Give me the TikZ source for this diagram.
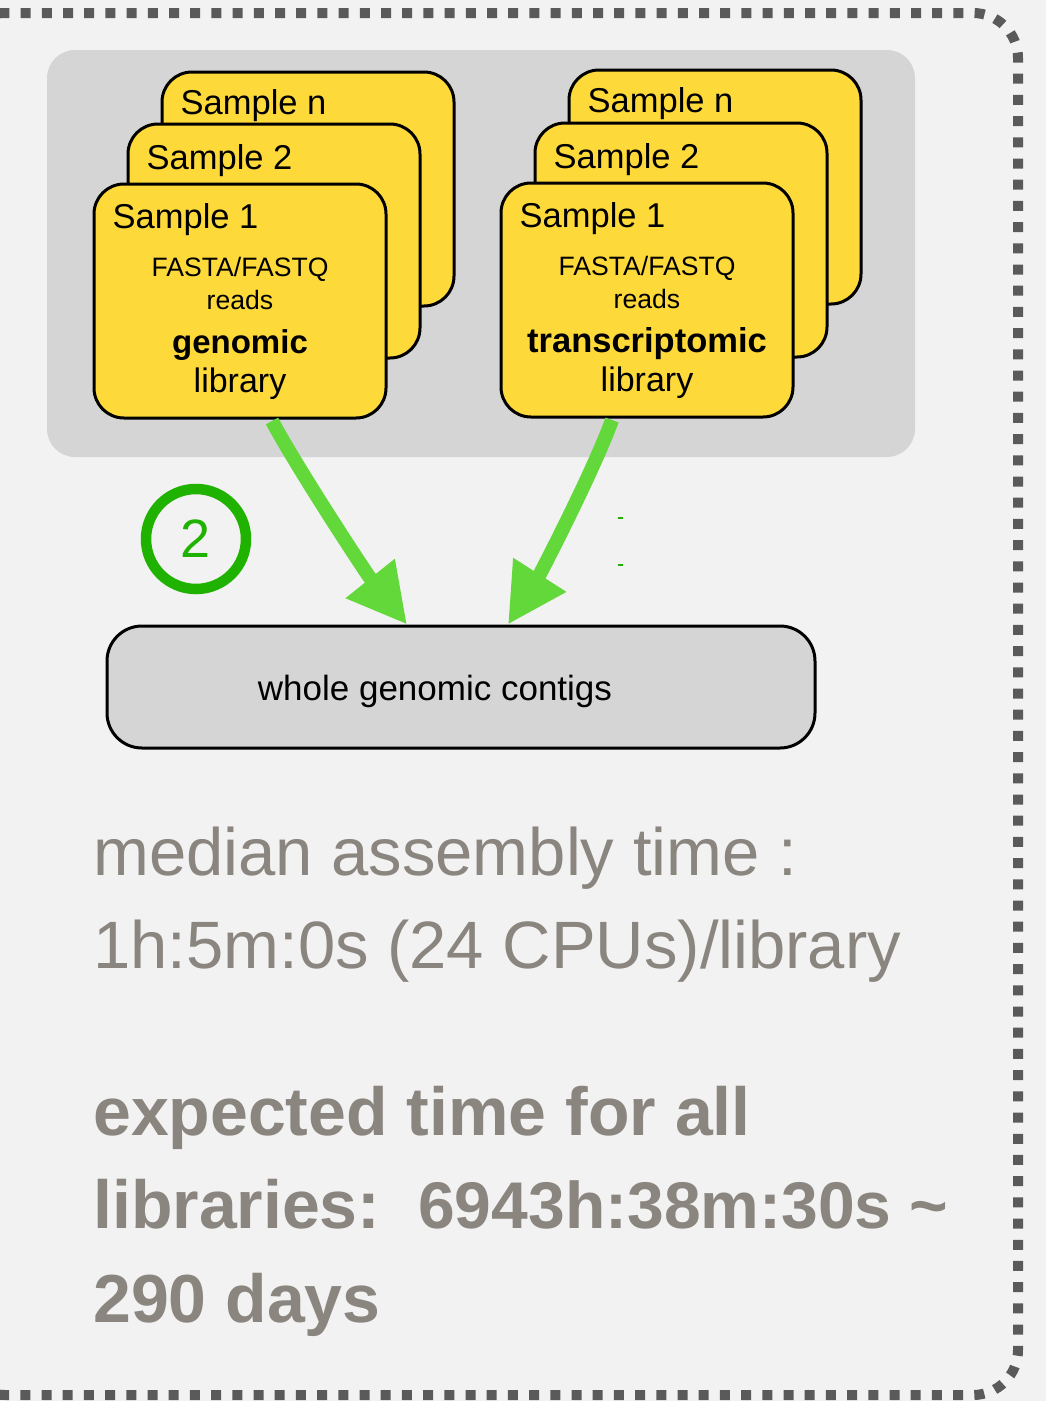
\documentclass[tikz,border=0pt]{standalone}
\usepackage{fontspec}
\setmainfont{Liberation Sans}
\usetikzlibrary{arrows.meta,calc}
\definecolor{bgc}{HTML}{F2F2F2}
\definecolor{panelc}{HTML}{D5D5D5}
\definecolor{yelc}{HTML}{FED93A}
\definecolor{dotc}{HTML}{5A5A5A}
\definecolor{arrowg}{HTML}{63D83A}
\definecolor{circg}{HTML}{1FB200}
\definecolor{txtgray}{HTML}{8A857F}
\newcommand{\myfs}[1]{\fontsize{#1}{#1}\selectfont}
\begin{document}
\begin{tikzpicture}[x=1pt,y=-1pt,
  samplebox/.style={draw=black, line width=3pt, fill=yelc, rounded corners=30pt,
    minimum width=292pt, minimum height=234pt, inner sep=0pt},
  samplelabel/.style={anchor=base west, inner sep=0pt, font=\myfs{34.5}},
  midtext/.style={anchor=base, inner sep=0pt, font=\myfs{26.6}},
  panelbox/.style={fill=panelc, rounded corners=28pt, minimum width=868pt,
    minimum height=407pt, inner sep=0pt},
  contigbox/.style={draw=black, line width=3pt, fill=panelc, rounded corners=35pt,
    minimum width=708pt, minimum height=122pt, inner sep=0pt},
  flowarrow/.style={draw=arrowg, line width=14pt,
    -{Triangle[length=59pt,width=59pt]}},
  graytext/.style={anchor=base west, inner sep=0pt, text=txtgray, font=\myfs{67}},
  graybold/.style={graytext, font=\myfs{68}\bfseries},
]
\useasboundingbox (0,0) rectangle (1046,1401);
\fill[bgc] (0,0) rectangle (1046,1401);
\begin{scope}
  \clip (0,0) rectangle (1046,1401);
  \draw[dotc, line width=10pt, dash pattern=on 10pt off 11.2pt, rounded corners=45pt]
    (-40,13) rectangle (1018,1395);
\end{scope}

% grey panel
\node[panelbox] (panel) at (481,253.5) {};

% genomic stack
\node[samplebox] (gn) at (308,189) {};
\node[samplelabel] (gnl) at ($(gn.north west)+(20,44)$) {Sample n};
\node[samplebox] (g2) at (274,241) {};
\node[samplelabel] (g2l) at ($(g2.north west)+(20,47)$) {Sample 2};
\node[samplebox] (g1) at (240,301) {};
\node[samplelabel] (g1l) at ($(g1.north west)+(20,46)$) {Sample 1};
\node[midtext] (g1a) at ($(g1.north)+(0,94)$) {FASTA/FASTQ};
\node[midtext] (g1b) at ($(g1.north)+(0,127)$) {reads};
\node[midtext, font=\myfs{33}\bfseries] (g1c) at ($(g1.north)+(0,171)$) {genomic};
\node[midtext, font=\myfs{34}] (g1d) at ($(g1.north)+(0,210)$) {library};

% transcriptomic stack
\node[samplebox] (tn) at (715,187) {};
\node[samplelabel] (tnl) at ($(tn.north west)+(20,44)$) {Sample n};
\node[samplebox] (t2) at (681,240) {};
\node[samplelabel] (t2l) at ($(t2.north west)+(20,47)$) {Sample 2};
\node[samplebox] (t1) at (647,300) {};
\node[samplelabel] (t1l) at ($(t1.north west)+(20,46)$) {Sample 1};
\node[midtext] (t1a) at ($(t1.north)+(0,94)$) {FASTA/FASTQ};
\node[midtext] (t1b) at ($(t1.north)+(0,127)$) {reads};
\node[midtext, font=\myfs{34.5}\bfseries] (t1c) at ($(t1.north)+(0,171)$) {transcriptomic};
\node[midtext, font=\myfs{34}] (t1d) at ($(t1.north)+(0,210)$) {library};

% contigs box
\node[contigbox] (contigs) at (461,687) {};
\node[anchor=base, inner sep=0pt, font=\myfs{35}] (contigtxt) at (435,700) {whole genomic contigs};

% arrows
\draw[flowarrow] ($(g1.south)+(32,1.5)$) .. controls +(27,50) and +(-40,-50) .. ($(contigs.north)+(-54,0)$);
\draw[flowarrow] ($(t1.south)+(-35,1.5)$) .. controls +(-18,50) and +(32,-50) .. ($(contigs.north)+(47,0)$);

% step marker
\node[circle, draw=circg, line width=10.5pt, minimum size=100pt, inner sep=0pt,
  text=circg, font=\myfs{54}] (step2) at (196,539) {2};
\draw[circg, line width=2.5pt] (618,518) -- (623,518);
\draw[circg, line width=2.5pt] (618,565) -- (623,565);

% timing text
\node[graytext] (median) at (93,875) {median assembly time :};
\node[graytext] (permlib) at (93,968) {1h:5m:0s (24 CPUs)/library};
\node[graybold] (exp1) at (93,1135) {expected time for all};
\node[graybold] (exp2) at (93,1228) {libraries:\ \ {\fontsize{66}{66}\selectfont 6943h:38m:30s \textasciitilde}};
\node[graybold] (exp3) at (93,1322) {290 days};
\end{tikzpicture}
\end{document}
